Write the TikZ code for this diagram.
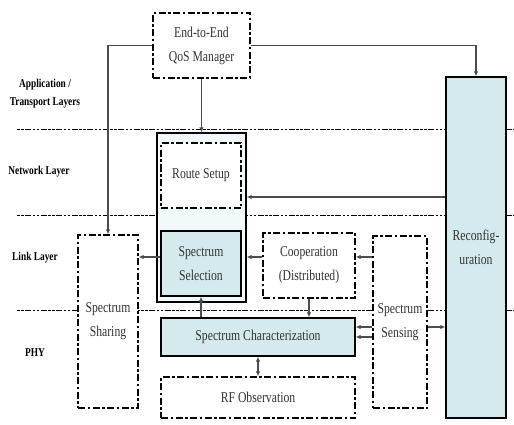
\documentclass[tikz,border=0pt]{standalone}
\usepackage{fontspec}
\setmainfont{Liberation Serif}[FakeStretch=0.78]
\usetikzlibrary{arrows.meta,positioning}
\definecolor{cyanbg}{HTML}{D5EAED}
\definecolor{groupbg}{HTML}{F2F9FA}

\begin{document}
\begin{tikzpicture}[x=1pt,y=-1pt]
  \tikzset{
    blk/.style={draw, line width=1.3pt, dash pattern=on 7pt off 2.5pt on 2.5pt off 2.5pt,
      fill=white, align=center, inner sep=0pt, text=black!80,
      font=\fontsize{15}{24}\selectfont},
    fullblk/.style={blk, solid, fill=cyanbg},
    layer/.style={font=\fontsize{12}{18}\selectfont\bfseries, align=center},
    sep/.style={line width=1pt, dash pattern=on 2.5pt off 1.5pt on 2.5pt off 1.5pt on 6pt off 1.5pt},
    link/.style={line width=1.6pt, draw=black!70, -{Latex[length=5pt,width=4.5pt]}},
  }
  \useasboundingbox (0,0) rectangle (514,425);

  % Layer separators and their names.
  \foreach \y in {130,215,310}
    \draw[sep] (17,\y) -- (514,\y);
  \node[layer] (app)  at (45,94)  {Application /\\Transport Layers};
  \node[layer] (net)  at (39,172) {Network Layer};
  \node[layer] (link) at (35,258) {Link Layer};
  \node[layer] (phy)  at (35,353) {PHY};

  % The blocks.
  \node[blk, minimum width=97pt, minimum height=65pt] (qos) at (201.5,45.5) {End-to-End\\QoS Manager};
  \node[blk, solid, fill=groupbg, minimum width=89pt, minimum height=169pt] (group) at (201.5,217.5) {};
  \node[blk, minimum width=80pt, minimum height=65pt] (route) at (201,175.5) {Route Setup};
  \node[fullblk, minimum width=80pt, minimum height=65pt] (select) at (201,263.5) {Spectrum\\Selection};
  \node[fullblk, minimum width=60pt, minimum height=341pt] (reconf) at (476,247.5) {Reconfig-\\uration};
  \node[blk, minimum width=60pt, minimum height=173pt] (sharing) at (108,321.5) {Spectrum\\Sharing};
  \node[blk, minimum width=92pt, minimum height=65pt] (coop) at (309,265.5) {Cooperation\\(Distributed)};
  \node[blk, minimum width=54pt, minimum height=172pt] (sensing) at (400,322) {Spectrum\\Sensing};
  \node[fullblk, minimum width=194pt, minimum height=38pt] (charact) at (258,337) {Spectrum Characterization};
  \node[blk, minimum width=194pt, minimum height=41pt] (rfobs) at (258,397.5) {RF Observation};

  % Connectors.
  \coordinate (rs) at (0,197);
  \coordinate (lk) at (0,257);
  \coordinate (ce) at ([yshift=10pt]charact.east);
  \draw[link] (qos.west) -| (sharing.north);
  \draw[link] (qos.east) -| (reconf.north);
  \draw[link] (qos.south) -- (group.north);
  \draw[link] (reconf.west |- rs) -- (group.east |- rs);
  \draw[link] (select.west |- lk) -- (sharing.east |- lk);
  \draw[link] (coop.west |- lk) -- (group.east |- lk);
  \draw[link] (sensing.west |- lk) -- (coop.east |- lk);
  \draw[link] (sensing.west |- ce) -- (ce);
  \draw[link] (sensing.west |- charact.east) -- (charact.east);
  \draw[link] (sensing.east |- ce) -- (reconf.west |- ce);
  \draw[link] (select.south |- charact.north) -- (select.south);
  \draw[link] (coop.south) -- (coop.south |- charact.north);
  \draw[link, {Latex[length=5pt,width=4.5pt]}-{Latex[length=5pt,width=4.5pt]}] (charact.south) -- (rfobs.north);
\end{tikzpicture}
\end{document}
